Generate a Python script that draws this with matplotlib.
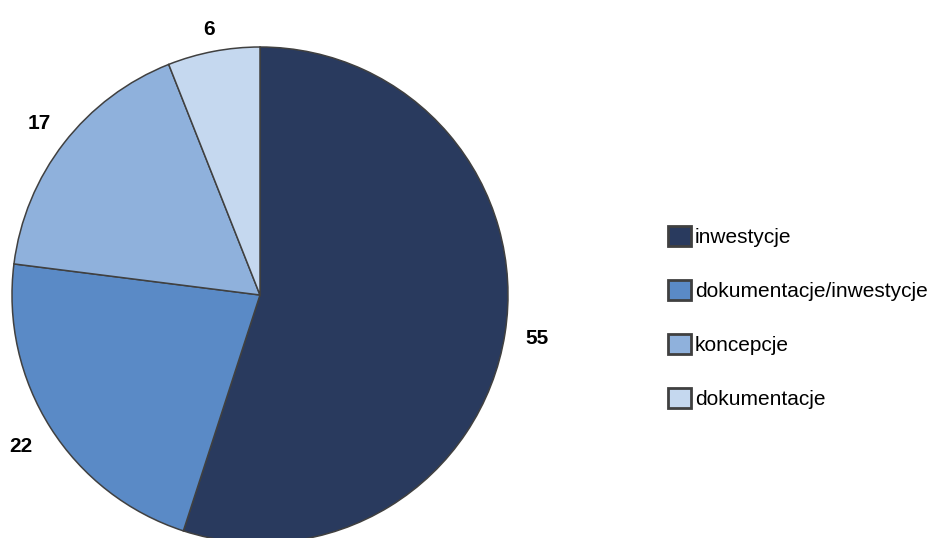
import matplotlib.pyplot as plt
from matplotlib.patches import Patch

# Udział kategorii (%)
kategorie = ['inwestycje', 'dokumentacje/inwestycje', 'koncepcje', 'dokumentacje']
wartosci = [55, 22, 17, 6]
kolory = ['#293A5E', '#5A8AC6', '#8FB1DC', '#C5D8EF']
krawedz = '#404040'
odleglosci = [1.13, 1.14, 1.125, 1.09]  # odsunięcie etykiet od środka

plt.rcParams['font.family'] = ['Liberation Sans Narrow', 'Liberation Sans', 'DejaVu Sans']

fig = plt.figure(figsize=(9.36, 5.38), dpi=100)

# Koło: środek (260, 295) px, promień 248 px
r_px = 248
ax = fig.add_axes([(260 - r_px) / 936, (538 - 295 - r_px) / 538,
                   2 * r_px / 936, 2 * r_px / 538])
wedges, teksty = ax.pie(
    wartosci, labels=[str(v) for v in wartosci], colors=kolory,
    startangle=90, counterclock=False, labeldistance=1.0,
    wedgeprops=dict(edgecolor=krawedz, linewidth=1.1),
    textprops=dict(fontsize=15, fontweight='bold', color='black'),
)
for t, d in zip(teksty, odleglosci):
    x, y = t.get_position()
    t.set_position((x * d, y * d))
    t.set_horizontalalignment('center')
    t.set_verticalalignment('center')
ax.set_xlim(-1, 1)
ax.set_ylim(-1, 1)
ax.set_aspect('equal')
ax.axis('off')

# Legenda
uchwyty = [Patch(facecolor=c, edgecolor=krawedz, linewidth=2) for c in kolory]
fig.legend(
    uchwyty, kategorie, loc='center left', bbox_to_anchor=(668 / 936, 0.41),
    frameon=False, fontsize=15, handlelength=1.1, handleheight=1.1,
    handletextpad=0.2, labelspacing=1.57, borderpad=0, borderaxespad=0,
)

fig.savefig('out.png', dpi=100)
